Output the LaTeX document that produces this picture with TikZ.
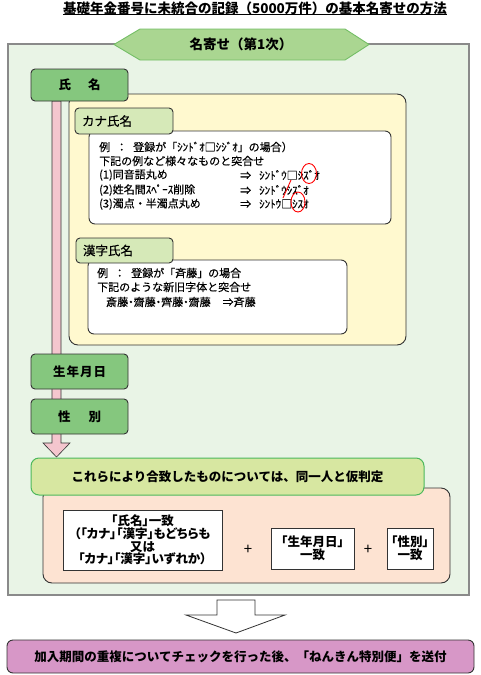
\documentclass[tikz,border=0pt]{standalone}
\usepackage{fontspec}
\setmainfont{Noto Sans CJK JP}
\newfontfamily\pfont{Noto Sans CJK JP}[RawFeature={+palt}]
\newfontfamily\medfont{Noto Sans CJK JP}[FakeBold=0.4]
\newfontfamily\pmedfont{Noto Sans CJK JP}[RawFeature={+palt},FakeBold=0.4]
\usetikzlibrary{calc}
\definecolor{panelfill}{HTML}{E9F4E6}
\definecolor{panelline}{HTML}{8A8A8A}
\definecolor{hexfill}{HTML}{AAD691}
\definecolor{hexline}{HTML}{74BE66}
\definecolor{gfill}{HTML}{85C77E}
\definecolor{yfill}{HTML}{FFF9CF}
\definecolor{tabfill}{HTML}{D6E9B8}
\definecolor{ygfill}{HTML}{D7E7A1}
\definecolor{ygline}{HTML}{4CB85C}
\definecolor{peach}{HTML}{FDE3D2}
\definecolor{pinkarrow}{HTML}{F4C6CE}
\definecolor{bottomfill}{HTML}{D797C7}
\definecolor{darkline}{HTML}{333333}
\tikzset{
  box/.style={draw=darkline, line width=0.9pt, inner sep=0pt},
  gbox/.style={box, fill=gfill, rounded corners=4pt, minimum width=97pt, font=\fontsize{12.5}{14}\selectfont\bfseries},
  tabbox/.style={box, fill=tabfill, rounded corners=4pt, font=\medfont\fontsize{12.5}{14}\selectfont},
  wbox/.style={box, fill=white, rounded corners=6pt},
  txt/.style={anchor=west, inner sep=0pt, font=\medfont\fontsize{11}{13}\selectfont},
  pbox/.style={box, fill=white, rounded corners=0pt, align=center, font=\pfont\fontsize{12.5}{12.8}\selectfont\bfseries},
  redmark/.style={draw=red, line width=0.9pt}
}
\begin{document}
\begin{tikzpicture}[x=1pt,y=-1pt]
\useasboundingbox (0,0) rectangle (480,675);
% title
\node[inner sep=0pt, font=\fontsize{13.5}{15}\selectfont\bfseries] (title) at (255,8.5) {基礎年金番号に未統合の記録（5000万件）の基本名寄せの方法};
\draw[line width=0.8pt] ($(title.west)+(0,6)$) -- ($(title.east)+(0,6)$);
% main panel
\node[draw=panelline, fill=panelfill, line width=1.3pt, minimum width=461pt, minimum height=551pt, inner sep=0pt] (panel) at (238.5,319.5) {};
% hexagon banner
\draw[draw=hexline, fill=hexfill, line width=0.9pt] (114,44.5) -- (140,29) -- (345,29) -- (369,44.5) -- (345,60) -- (140,60) -- cycle;
\node[inner sep=0pt, font=\fontsize{13.5}{16}\selectfont\bfseries] (nayose) at (241,44.5) {名寄せ（第1次）};
% pink arrow
\draw[draw=darkline, fill=pinkarrow, line width=0.6pt] (52,101) -- (61,101) -- (61,443) -- (70,443) -- (56.5,457) -- (43,443) -- (52,443) -- cycle;
% yellow box
\node[box, fill=yfill, rounded corners=9pt, minimum width=337pt, minimum height=251pt] (ybox) at (237.5,219.5) {};
% kana box
\node[wbox, minimum width=302pt, minimum height=93pt] (kanabox) at (240,177.5) {};
\node[tabbox, minimum width=98pt, minimum height=26pt, text width=84pt, align=left] (kanatab) at (124,121) {カナ氏名};
\node[txt] (k1) at (99,147) {例\hspace{6pt}：\hspace{6pt}登録が「ｼﾝﾄﾞｵ□ｼｼﾞｵ」の場合）};
\node[txt] (k2) at (99,161) {下記の例など様々なものと突合せ};
\node[txt] (k3) at (99,175) {(1)同音語丸め};
\node[txt] (k4) at (99,190) {(2)姓名間ｽﾍﾟｰｽ削除};
\node[txt] (k5) at (99,204) {(3)濁点・半濁点丸め};
\node[txt] (r3) at (240,175) {⇒\hspace{8pt}ｼﾝﾄﾞｳ□ｼｽﾞｵ};
\node[txt] (r4) at (240,190) {⇒\hspace{8pt}ｼﾝﾄﾞｳｼｽﾞｵ};
\node[txt] (r5) at (240,204) {⇒\hspace{8pt}ｼﾝﾄｳ□ｼｽｵ};
\draw[redmark] (309,173.5) ellipse [x radius=7.5, y radius=10];
\draw[redmark] (298,202) ellipse [x radius=7, y radius=10];
\draw[redmark] (283,198) -- (291,180);
% kanji box
\node[wbox, minimum width=259pt, minimum height=74pt] (kanjibox) at (217.5,297) {};
\node[tabbox, minimum width=97pt, minimum height=25pt, text width=83pt, align=left] (kanjitab) at (124.5,250.5) {漢字氏名};
\node[txt] (j1) at (97,273) {例\hspace{6pt}：\hspace{6pt}登録が「斉藤」の場合};
\node[txt] (j2) at (97,287) {下記のような新旧字体と突合せ};
\node[txt, font=\pmedfont\fontsize{11}{13}\selectfont] (j3) at (106,302) {斎藤・齋藤・齊藤・齋藤\hspace{12pt}⇒斉藤};
% name boxes
\node[gbox, minimum height=32pt] (shimei) at (79.5,85) {氏\hspace{17pt}名};
\node[gbox, minimum height=35pt] (seinen) at (79.5,371.5) {生\hspace{1pt}年\hspace{1pt}月\hspace{1pt}日};
\node[gbox, minimum height=35pt] (seibetsu) at (79.5,416.5) {性\hspace{18pt}別};
% result area
\node[box, fill=peach, rounded corners=9pt, minimum width=407pt, minimum height=95pt] (peachbox) at (246.5,535.5) {};
\node[draw=ygline, fill=ygfill, line width=1pt, rounded corners=8pt, minimum width=393pt, minimum height=37pt, inner sep=0pt, font=\fontsize{12.5}{14}\selectfont\bfseries] (gouchi) at (227.5,476.5) {これらにより合致したものについては、同一人と仮判定};
\node[pbox, minimum width=159pt, minimum height=60pt] (boxA) at (142.5,540) {「氏名」一致\\（「カナ」「漢字」もどちらも\\又は\\「カナ」「漢字」いずれか）};
\node[pbox, minimum width=83pt, minimum height=41pt] (boxB) at (312.5,548.5) {「生年月日」\\一致};
\node[pbox, minimum width=46pt, minimum height=41pt] (boxC) at (410,548.5) {「性別」\\一致};
\node[inner sep=0pt, font=\fontsize{15}{16}\selectfont] (plus1) at (248,550) {+};
\node[inner sep=0pt, font=\fontsize{15}{16}\selectfont] (plus2) at (368,550) {+};
% big white arrow
\draw[draw=darkline, fill=white, line width=0.8pt] (217,600) -- (255,600) -- (255,615) -- (285,615) -- (236,633) -- (186,615) -- (217,615) -- cycle;
% bottom box
\node[box, fill=bottomfill, rounded corners=6pt, minimum width=467pt, minimum height=33pt, font=\fontsize{12.5}{14}\selectfont\bfseries] (bottom) at (240.5,656.5) {加入期間の重複についてチェックを行った後、「ねんきん特別便」を送付};
\end{tikzpicture}
\end{document}
